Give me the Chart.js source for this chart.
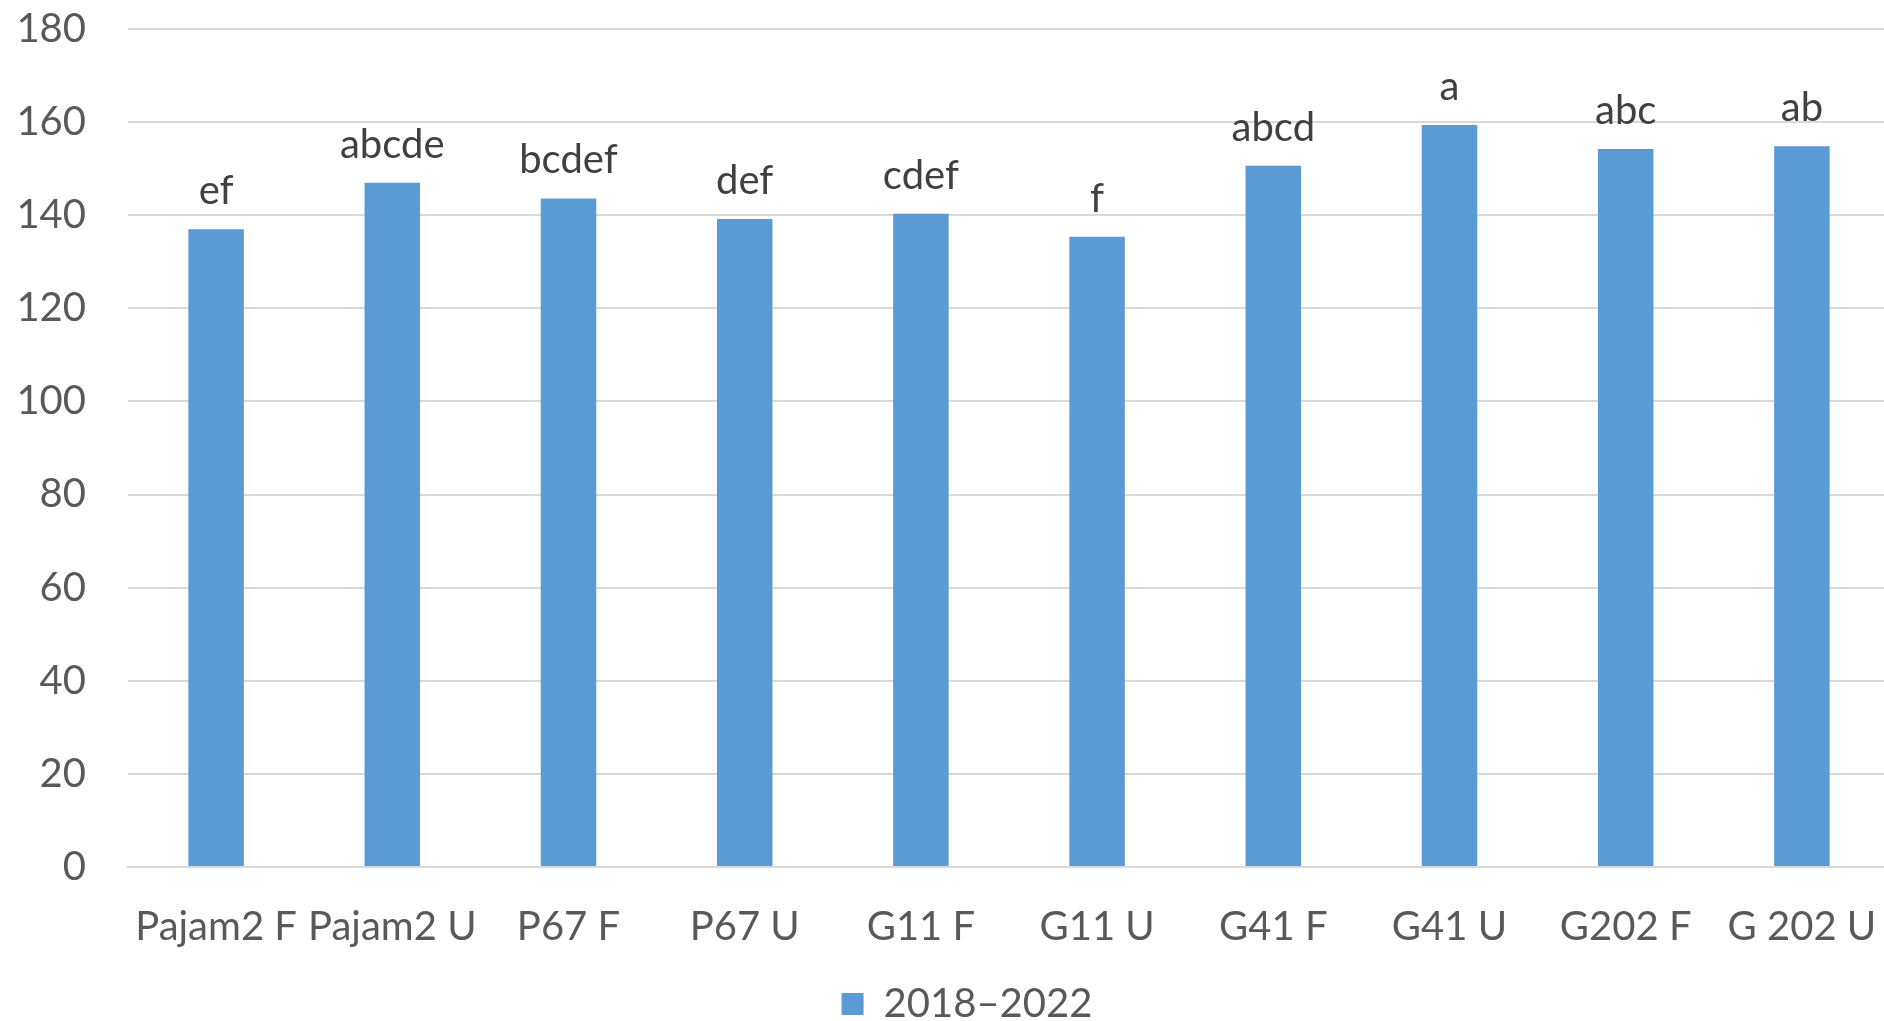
<!DOCTYPE html>
<html>
<head>
<meta charset="utf-8">
<script src="https://cdn.jsdelivr.net/npm/chart.js@4"></script>
<style>
	html, body { margin: 0; padding: 0; background: #fff; overflow: hidden; }
	#wrap { width: 1884px; height: 1021px; position: relative; overflow: hidden; }
	#inner { width: 1890px; height: 1021px; position: relative; }
</style>
</head>
<body>
<div id="wrap"><div id="inner"><canvas id="chart"></canvas></div></div>
<script>
// Chart data
var categories = ['Pajam2 F', 'Pajam2 U', 'P67 F', 'P67 U', 'G11 F', 'G11 U', 'G41 F', 'G41 U', 'G202 F', 'G 202 U'];
var seriesName = '2018\u20132022';
var values = [137, 147, 143.6, 139.2, 140.3, 135.4, 150.6, 159.4, 154.2, 154.8];
var letters = ['ef', 'abcde', 'bcdef', 'def', 'cdef', 'f', 'abcd', 'a', 'abc', 'ab'];
var yTicks = [0, 20, 40, 60, 80, 100, 120, 140, 160, 180];

var fontFamily = 'Lato, "Open Sans", sans-serif';

// Draws the significance letters above each bar
var letterLabels = {
	id: 'letterLabels',
	afterDatasetsDraw: function (chart) {
		var ctx = chart.ctx;
		var meta = chart.getDatasetMeta(0);
		ctx.save();
		ctx.font = '40px ' + fontFamily;
		ctx.fillStyle = '#404040';
		ctx.textAlign = 'center';
		ctx.textBaseline = 'alphabetic';
		meta.data.forEach(function (bar, i) {
			ctx.fillText(letters[i], bar.x, bar.y - 25);
		});
		ctx.restore();
	}
};

// Nudge the legend a little to sit where the original one is
var legendNudge = {
	id: 'legendNudge',
	afterLayout: function (chart) {
		var lg = chart.legend;
		if (!lg) return;
		lg.left += 22;
		lg.right += 22;
		lg.top += 13;
		lg.bottom += 13;
	}
};

var ctx = document.getElementById('chart').getContext('2d');
new Chart(ctx, {
	type: 'bar',
	data: {
		labels: categories,
		datasets: [{
			label: seriesName,
			data: values,
			backgroundColor: '#5b9bd5',
			borderWidth: 0,
			barPercentage: 0.315,
			categoryPercentage: 1
		}]
	},
	options: {
		responsive: true,
		maintainAspectRatio: false,
		animation: false,
		layout: { padding: { top: 29, left: 0, right: 0, bottom: 0 } },
		plugins: {
			legend: {
				display: true,
				position: 'bottom',
				labels: {
					color: '#595959',
					font: { family: fontFamily, size: 40 },
					boxWidth: 22,
					boxHeight: 22,
					padding: 0
				}
			},
			tooltip: { enabled: false }
		},
		scales: {
			x: {
				grid: { display: false, drawTicks: false },
				border: { color: '#d9d9d9', width: 2 },
				ticks: {
					color: '#595959',
					font: { family: fontFamily, size: 40 },
					padding: 36,
					maxRotation: 0,
					autoSkip: false
				},
				afterFit: function (axis) {
					axis.height = 104;
					axis.paddingLeft = 0;
					axis.paddingRight = 0;
				}
			},
			y: {
				min: 0,
				max: 180,
				afterBuildTicks: function (axis) {
					axis.ticks = yTicks.map(function (v) { return { value: v }; });
				},
				grid: { color: '#d9d9d9', lineWidth: 2, drawTicks: false },
				border: { display: false },
				ticks: {
					color: '#595959',
					font: { family: fontFamily, size: 40 },
					padding: 42
				},
				afterFit: function (axis) {
					axis.width = 128;
					axis.paddingTop = 0;
					axis.paddingBottom = 0;
				}
			}
		}
	},
	plugins: [letterLabels, legendNudge]
});
</script>
</body>
</html>
